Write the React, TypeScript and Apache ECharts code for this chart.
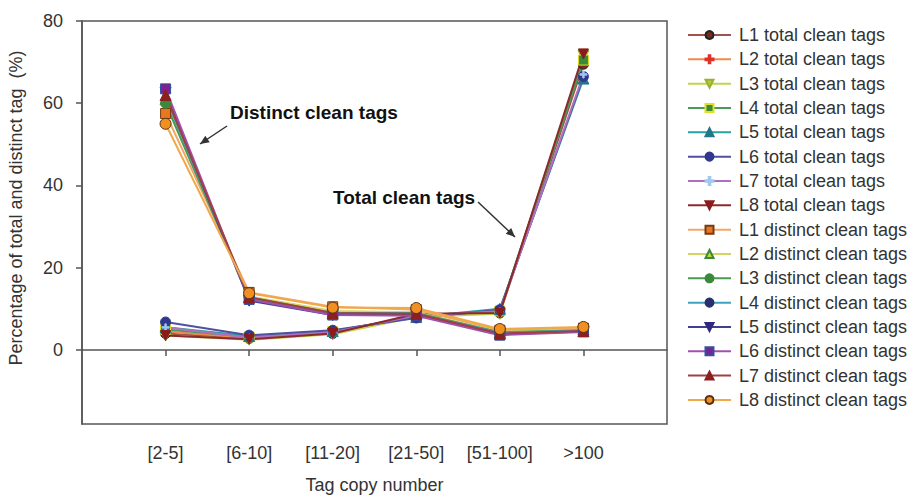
import React, { useEffect, useRef } from "react";
import * as echarts from "echarts";

const categories = ["[2-5]", "[6-10]", "[11-20]", "[21-50]", "[51-100]", ">100"];
const yTicks = [0, 20, 40, 60, 80];

const L1Total = [4.0, 2.8, 4.0, 8.5, 9.0, 69.5];
const L2Total = [4.5, 3.0, 4.2, 8.3, 9.2, 71.0];
const L3Total = [3.5, 2.5, 3.8, 8.0, 8.8, 71.5];
const L4Total = [5.0, 3.2, 4.5, 8.2, 9.5, 70.5];
const L5Total = [5.5, 3.4, 4.6, 8.0, 10.0, 66.0];
const L6Total = [6.8, 3.6, 4.8, 7.8, 9.8, 66.5];
const L7Total = [5.5, 3.0, 4.3, 8.4, 9.4, 67.0];
const L8Total = [3.5, 2.6, 4.0, 8.8, 9.0, 72.0];

const L1Distinct = [57.5, 14.0, 10.5, 9.8, 4.8, 5.3];
const L2Distinct = [61.0, 13.0, 9.5, 9.2, 4.4, 5.0];
const L3Distinct = [60.0, 12.8, 9.0, 9.0, 4.3, 4.8];
const L4Distinct = [61.5, 12.5, 9.0, 8.8, 4.2, 4.7];
const L5Distinct = [62.5, 12.0, 8.5, 8.5, 3.8, 4.5];
const L6Distinct = [63.5, 12.3, 8.5, 8.3, 3.6, 4.4];
const L7Distinct = [62.0, 12.8, 9.0, 8.8, 4.0, 4.6];
const L8Distinct = [55.0, 13.8, 10.3, 10.2, 5.1, 5.6];

const PLUS = "path://M4 0h2v4h4v2H6v4H4V6H0V4h4z";
const FONT = "Liberation Sans, Arial, sans-serif";

type Spec = {
  name: string;
  data: number[];
  line: string;
  fill: string;
  border: string;
  symbol: string;
  size: number;
  rotate?: number;
};

const specs: Spec[] = [
  { name: "L1 total clean tags", data: L1Total, line: "#A0524D", fill: "#7A2A1A", border: "#222", symbol: "circle", size: 10 },
  { name: "L2 total clean tags", data: L2Total, line: "#F08A4A", fill: "#E0302A", border: "#E0302A", symbol: PLUS, size: 7 },
  { name: "L3 total clean tags", data: L3Total, line: "#C4D44A", fill: "#B0CC3C", border: "#9AB030", symbol: "triangle", size: 11, rotate: 180 },
  { name: "L4 total clean tags", data: L4Total, line: "#4C9A5A", fill: "#3A8A3A", border: "#E0E020", symbol: "rect", size: 10 },
  { name: "L5 total clean tags", data: L5Total, line: "#2AA0A0", fill: "#207888", border: "#207888", symbol: "triangle", size: 11 },
  { name: "L6 total clean tags", data: L6Total, line: "#5050A0", fill: "#303890", border: "#303890", symbol: "circle", size: 10 },
  { name: "L7 total clean tags", data: L7Total, line: "#B070C0", fill: "#A0C8F0", border: "#A0C8F0", symbol: PLUS, size: 7 },
  { name: "L8 total clean tags", data: L8Total, line: "#8B2A2A", fill: "#8B1A1A", border: "#8B1A1A", symbol: "triangle", size: 10, rotate: 180 },
  { name: "L1 distinct clean tags", data: L1Distinct, line: "#F0A868", fill: "#E87820", border: "#7A3A10", symbol: "rect", size: 10 },
  { name: "L2 distinct clean tags", data: L2Distinct, line: "#D4D460", fill: "#C8D040", border: "#3A8A3A", symbol: "triangle", size: 11 },
  { name: "L3 distinct clean tags", data: L3Distinct, line: "#4A9A50", fill: "#3A8A3A", border: "#3A8A3A", symbol: "circle", size: 10 },
  { name: "L4 distinct clean tags", data: L4Distinct, line: "#40A0C0", fill: "#283070", border: "#283070", symbol: "circle", size: 5 },
  { name: "L5 distinct clean tags", data: L5Distinct, line: "#404090", fill: "#302880", border: "#302880", symbol: "triangle", size: 11, rotate: 180 },
  { name: "L6 distinct clean tags", data: L6Distinct, line: "#A050B0", fill: "#802090", border: "#3050A0", symbol: "rect", size: 10 },
  { name: "L7 distinct clean tags", data: L7Distinct, line: "#A04040", fill: "#8B2020", border: "#8B2020", symbol: "triangle", size: 11 },
  { name: "L8 distinct clean tags", data: L8Distinct, line: "#F0A848", fill: "#F09020", border: "#5A3010", symbol: "circle", size: 11 },
];

function arrowHead(x1: number, y1: number, x2: number, y2: number, len: number, half: number) {
  const dx = x2 - x1;
  const dy = y2 - y1;
  const d = Math.sqrt(dx * dx + dy * dy);
  const ux = dx / d;
  const uy = dy / d;
  const bx = x2 - ux * len;
  const by = y2 - uy * len;
  return [
    [x2, y2],
    [bx - uy * half, by + ux * half],
    [bx + uy * half, by - ux * half],
  ];
}

export default function App() {
  const ref = useRef<HTMLDivElement>(null);
  useEffect(() => {
    if (!ref.current) return;
    document.body.style.margin = "0";
    const chart = echarts.init(ref.current, undefined, { renderer: "svg" });
    const series = specs.map((s) => ({
      name: s.name,
      type: "line",
      data: s.data.map((v, i) => [i + 1, v]),
      symbol: s.symbol,
      symbolSize: s.size,
      symbolRotate: s.rotate || 0,
      showAllSymbol: true,
      lineStyle: { color: s.line, width: 2 },
      itemStyle: { color: s.fill, borderColor: s.border, borderWidth: 1 },
      emphasis: { disabled: true },
    }));
    const a1 = { x1: 227, y1: 126, x2: 200, y2: 144 };
    const a2 = { x1: 478, y1: 202, x2: 515, y2: 237 };
    chart.setOption({
      animation: false,
      textStyle: { fontFamily: FONT },
      grid: {
        left: 82,
        top: 21,
        right: 257,
        bottom: 75,
        show: true,
        borderColor: "#555",
        borderWidth: 1.5,
        backgroundColor: "transparent",
      },
      legend: {
        orient: "vertical",
        left: 682,
        top: 18,
        itemWidth: 43,
        itemHeight: 10,
        itemGap: 0.33,
        data: specs.map((s) => s.name),
        textStyle: { fontSize: 18, lineHeight: 24, color: "#333", fontFamily: FONT, padding: [0, 0, 0, 3] },
        selectedMode: false,
      },
      xAxis: {
        type: "value",
        min: 0,
        max: 7,
        name: "Tag copy number",
        nameLocation: "middle",
        nameGap: 52,
        nameTextStyle: { fontSize: 18, color: "#333", fontFamily: FONT },
        axisLine: { show: true, lineStyle: { color: "#555", width: 1.5 } },
        axisTick: { show: true, length: 6, customValues: [1, 2, 3, 4, 5, 6], lineStyle: { color: "#555", width: 1.5 } },
        axisLabel: {
          customValues: [1, 2, 3, 4, 5, 6],
          formatter: (v: number) => categories[Math.round(v) - 1] ?? "",
          fontSize: 18,
          color: "#333",
          margin: 20,
          fontFamily: FONT,
        },
        splitLine: { show: false },
      },
      yAxis: {
        type: "value",
        min: -18,
        max: 80,
        axisLine: { show: true, lineStyle: { color: "#555", width: 1.5 } },
        axisTick: { show: true, length: 6, customValues: yTicks, lineStyle: { color: "#555", width: 1.5 } },
        axisLabel: {
          customValues: yTicks,
          fontSize: 18,
          color: "#333",
          margin: 19,
          fontFamily: FONT,
        },
        splitLine: { show: false },
      },
      graphic: [
        {
          type: "text",
          x: 16,
          y: 208,
          rotation: Math.PI / 2,
          style: {
            text: "Percentage of total and distinct tag  (%)",
            fontSize: 18,
            fill: "#333",
            fontFamily: FONT,
            textAlign: "center",
            textVerticalAlign: "middle",
          },
        },
        {
          type: "text",
          x: 230,
          y: 112,
          style: {
            text: "Distinct clean tags",
            fontSize: 19,
            fontWeight: "bold",
            fill: "#111",
            fontFamily: FONT,
            textAlign: "left",
            textVerticalAlign: "middle",
          },
        },
        {
          type: "text",
          x: 333,
          y: 197,
          style: {
            text: "Total clean tags",
            fontSize: 19,
            fontWeight: "bold",
            fill: "#111",
            fontFamily: FONT,
            textAlign: "left",
            textVerticalAlign: "middle",
          },
        },
        { type: "line", shape: a1, style: { stroke: "#333", lineWidth: 1.5 } },
        { type: "polygon", shape: { points: arrowHead(a1.x1, a1.y1, a1.x2, a1.y2, 9, 4) }, style: { fill: "#333" } },
        { type: "line", shape: a2, style: { stroke: "#333", lineWidth: 1.5 } },
        { type: "polygon", shape: { points: arrowHead(a2.x1, a2.y1, a2.x2, a2.y2, 9, 4) }, style: { fill: "#333" } },
      ],
      series,
    });
    return () => chart.dispose();
  }, []);
  return <div ref={ref} style={{ width: 924, height: 499 }} />;
}
